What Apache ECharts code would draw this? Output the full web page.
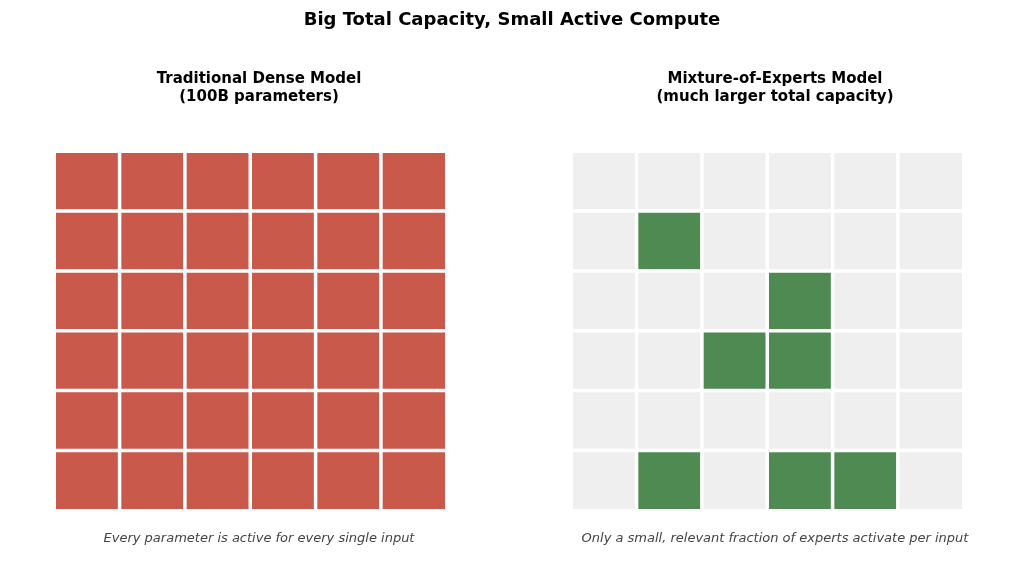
<!DOCTYPE html>
<html><head><meta charset="utf-8">
<script src="https://cdn.jsdelivr.net/npm/echarts@6/dist/echarts.min.js"></script>
<style>html,body{margin:0;padding:0;background:#fff}#c{width:1024px;height:561px}</style>
</head><body><div id="c"></div>
<script>
const cols = [0,1,2,3,4,5];
const rows = [0,1,2,3,4,5];
// 1 = active, 0 = inactive; rows listed top to bottom
const denseActive = [
  [1,1,1,1,1,1],[1,1,1,1,1,1],[1,1,1,1,1,1],
  [1,1,1,1,1,1],[1,1,1,1,1,1],[1,1,1,1,1,1]
];
const moeActive = [
  [0,0,0,0,0,0],
  [0,1,0,0,0,0],
  [0,0,0,1,0,0],
  [0,0,1,1,0,0],
  [0,0,0,0,0,0],
  [0,1,0,1,1,0]
];
const mainTitle = 'Big Total Capacity, Small Active Compute';
const leftTitle = 'Traditional Dense Model\n(100B parameters)';
const rightTitle = 'Mixture-of-Experts Model\n(much larger total capacity)';
const leftCaption = 'Every parameter is active for every single input';
const rightCaption = 'Only a small, relevant fraction of experts activate per input';

function cells(mat, on, off){
  const out=[];
  mat.forEach((r,ri)=>r.forEach((v,ci)=>out.push({value:[ci,ri,v],itemStyle:{color:v?on:off}})));
  return out;
}
const ch = echarts.init(document.getElementById('c'));
const font = 'DejaVu Sans';
const axisX = i=>({type:'category',data:cols,gridIndex:i,show:false});
const axisY = i=>({type:'category',data:rows,gridIndex:i,show:false,inverse:true});
ch.setOption({
  animation:false,
  textStyle:{fontFamily:font},
  title:[
    {text:mainTitle,left:'center',top:6,textStyle:{fontFamily:font,fontSize:18,fontWeight:'bold',color:'#000'}},
    {text:leftTitle,left:254,textAlign:'center',top:65,textStyle:{fontFamily:font,fontSize:15,fontWeight:'bold',color:'#000',lineHeight:18}},
    {text:rightTitle,left:770,textAlign:'center',top:65,textStyle:{fontFamily:font,fontSize:15,fontWeight:'bold',color:'#000',lineHeight:18}},
    {text:leftCaption,left:254,textAlign:'center',top:527,textStyle:{fontFamily:font,fontSize:13,fontStyle:'italic',fontWeight:'normal',color:'#444'}},
    {text:rightCaption,left:770,textAlign:'center',top:527,textStyle:{fontFamily:font,fontSize:13,fontStyle:'italic',fontWeight:'normal',color:'#444'}}
  ],
  grid:[
    {left:54.5,width:392,top:151.5,height:359},
    {left:571.5,width:392,top:151.5,height:359}
  ],
  xAxis:[axisX(0),axisX(1)],
  yAxis:[axisY(0),axisY(1)],
  series:[
    {type:'heatmap',xAxisIndex:0,yAxisIndex:0,data:cells(denseActive,'#c9594b','#efefef'),
     itemStyle:{borderColor:'#fff',borderWidth:3.5},emphasis:{disabled:true}},
    {type:'heatmap',xAxisIndex:1,yAxisIndex:1,data:cells(moeActive,'#4e8a52','#efefef'),
     itemStyle:{borderColor:'#fff',borderWidth:3.5},emphasis:{disabled:true}}
  ]
});
</script></body></html>
